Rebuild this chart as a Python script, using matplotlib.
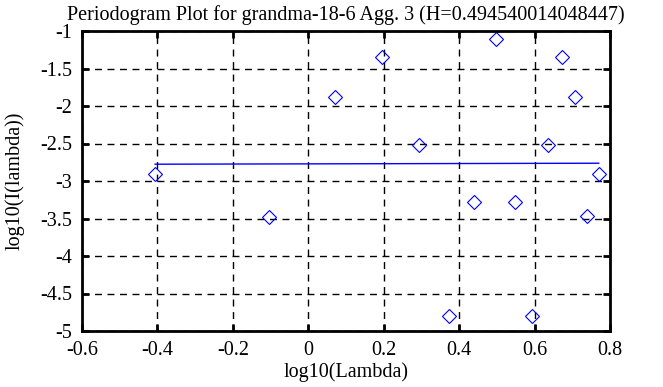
import numpy as np
import matplotlib.pyplot as plt

plt.rcParams["font.family"] = ["Liberation Serif", "DejaVu Serif"]
plt.rcParams["axes.unicode_minus"] = False

# periodogram points
log_lambda = [-0.406, -0.105, 0.071, 0.196, 0.293, 0.372, 0.439, 0.497,
              0.548, 0.594, 0.635, 0.673, 0.708, 0.740, 0.770]
log_I = [-2.905, -3.48, -1.88, -1.345, -2.515, -4.795, -3.28, -1.105,
         -3.28, -4.795, -2.515, -1.345, -1.88, -3.46, -2.905]

# fitted line end points
fit_x = [-0.406, 0.770]
fit_y = [-2.776, -2.763]

title = "Periodogram Plot for grandma-18-6 Agg. 3 (H=0.494540014048447)"
xticks = [-0.6, -0.4, -0.2, 0, 0.2, 0.4, 0.6, 0.8]
xticklabels = ["-0.6", "-0.4", "-0.2", "0", "0.2", "0.4", "0.6", "0.8"]
yticks = [-5, -4.5, -4, -3.5, -3, -2.5, -2, -1.5, -1]
yticklabels = ["-5", "-4.5", "-4", "-3.5", "-3", "-2.5", "-2", "-1.5", "-1"]

fs = 14.5

fig = plt.figure(figsize=(6.63, 3.87), dpi=100)
ax = fig.add_axes([82/663, 1-331/387, 528/663, 300/387])

ax.plot(fit_x, fit_y, color="b", lw=1.0)
ax.plot(log_lambda, log_I, ls="none", marker="D", ms=7, mfc="none",
        mec="b", mew=0.8)

ax.set_xlim(-0.6, 0.8)
ax.set_ylim(-5, -1)
ax.set_xticks(xticks)
ax.set_xticklabels(xticklabels)
ax.set_yticks(yticks)
ax.set_yticklabels(yticklabels)
ax.tick_params(direction="in", top=True, right=True, length=5, width=2,
               labelsize=fs)
ax.tick_params(axis="x", pad=7)
ax.tick_params(axis="y", pad=7)
for s in ax.spines.values():
	s.set_linewidth(2)
ax.grid(True, color="k", ls=(0, (5, 4)), lw=1)

ax.set_title(title, fontsize=fs, pad=8)
ax.set_xlabel("log10(Lambda)", fontsize=fs, labelpad=2)
ax.set_ylabel("log10(I(lambda))", fontsize=fs, labelpad=11)

fig.savefig("out.png", dpi=100)
